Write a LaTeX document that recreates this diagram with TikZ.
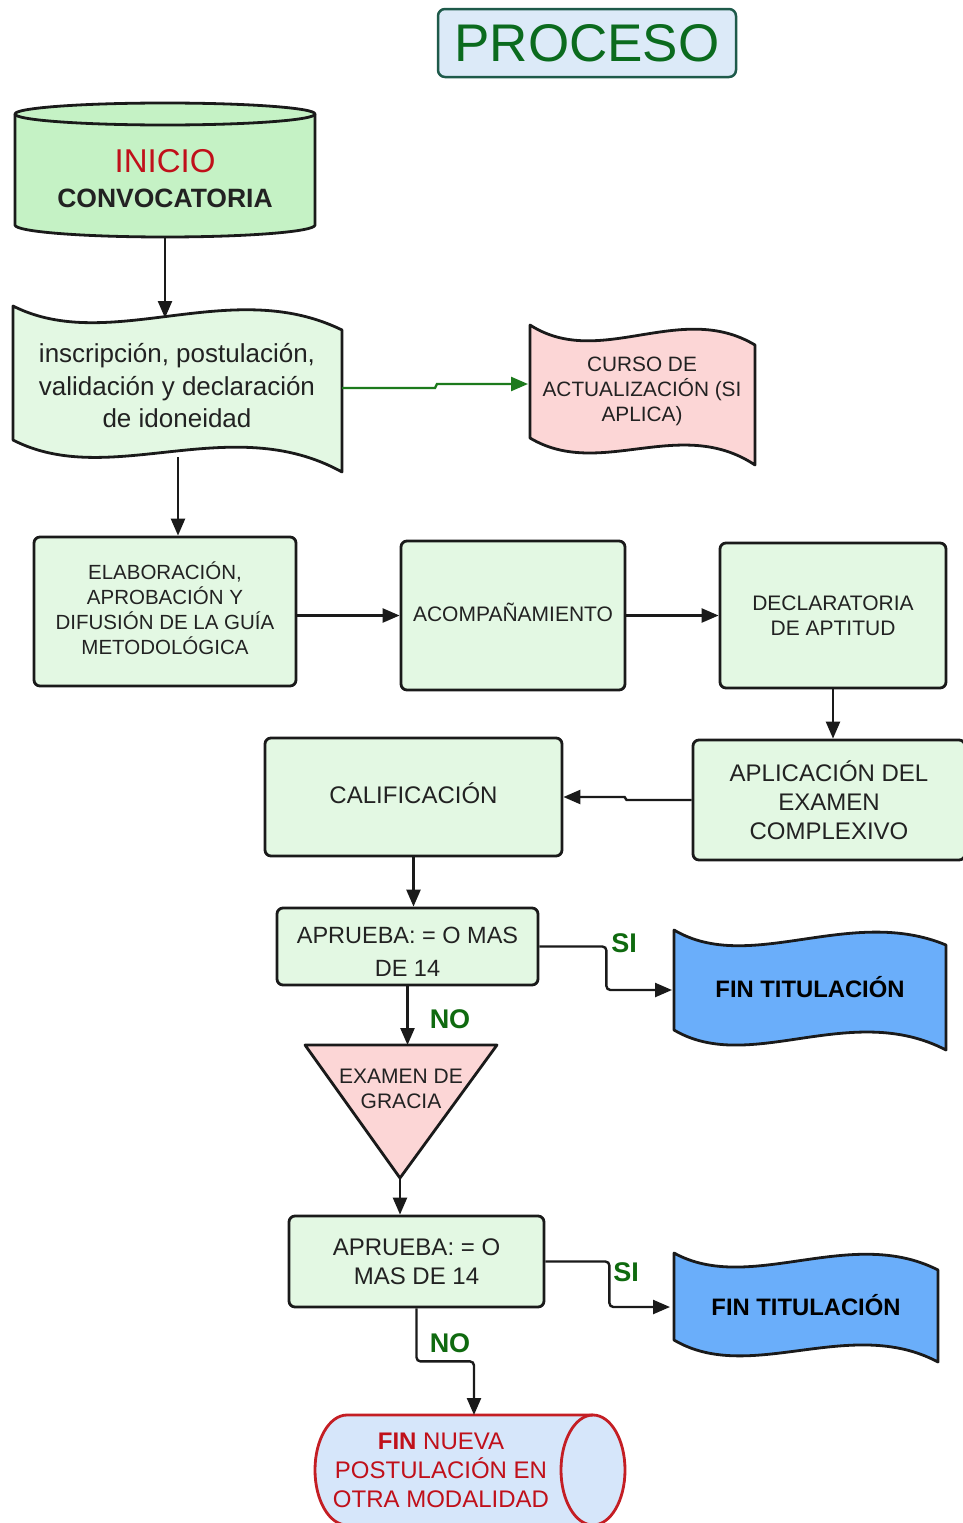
\documentclass[tikz,border=0pt]{standalone}
\usepackage{fontspec}
\setmainfont{Liberation Sans}
\usetikzlibrary{arrows.meta,shapes.geometric}
\definecolor{boxfill}{HTML}{E3F8E3}
\definecolor{cylfill}{HTML}{C5F2C5}
\definecolor{pinkfill}{HTML}{FCD6D6}
\definecolor{bluefill}{HTML}{6AAEFA}
\definecolor{lblue}{HTML}{D6E6FA}
\definecolor{titlefill}{HTML}{DCEAF8}
\definecolor{titleborder}{HTML}{1E5A4A}
\definecolor{titletext}{HTML}{0B6B1E}
\definecolor{labgreen}{HTML}{0F6A0F}
\definecolor{arrgreen}{HTML}{1C7A1C}
\definecolor{redtext}{HTML}{C0101A}
\definecolor{redborder}{HTML}{C41E24}
\definecolor{linecol}{HTML}{1A1A1A}
\definecolor{txt}{HTML}{222222}
\begin{document}
\begin{tikzpicture}[x=1pt,y=-1pt,
  box/.style={draw=linecol, line width=2.8pt, fill=boxfill, rounded corners=6pt, align=center, inner sep=0pt, text=txt},
  shapeline/.style={draw=linecol, line width=2.8pt, line join=round},
  arr/.style={draw=linecol, line width=2.4pt, -{Triangle[length=17pt,width=14pt]}},
  lab/.style={text=labgreen, font=\bfseries\fontsize{27}{27}\selectfont},
  tx/.style={align=center, text=txt, inner sep=0pt}]
\useasboundingbox (0,0) rectangle (963,1523);
\fill[white] (0,0) rectangle (963,1523);

% title
\node[draw=titleborder, line width=2.5pt, fill=titlefill, rounded corners=7pt,
      minimum width=298pt, minimum height=68pt, inner sep=0pt,
      text=titletext, font=\fontsize{53}{53}\selectfont] (title) at (587,43) {PROCESO};

% INICIO cylinder
\filldraw[shapeline, fill=cylfill] (15,114) -- (15,225)
   arc[start angle=180, end angle=360, x radius=150pt, y radius=12pt] -- (315,114) -- cycle;
\filldraw[shapeline, fill=cylfill] (165,114) ellipse [x radius=150pt, y radius=11pt];
\node[tx, text=redtext, font=\fontsize{33}{33}\selectfont] (inicio) at (165,161) {INICIO};
\node[tx, font=\bfseries\fontsize{26.5}{26.5}\selectfont] (convoc) at (165,198) {CONVOCATORIA};
\coordinate (cylb) at (165,237);

% wave 1
\filldraw[shapeline, fill=boxfill] (13,306) .. controls (110,355) and (230,275) .. (342,330)
   -- (342,472) .. controls (230,410) and (110,490) .. (13,440) -- cycle;
\node[tx, font=\fontsize{26}{32.5}\selectfont] (inscr) at (177,386)
  {inscripción, postulación,\\validación y declaración\\de idoneidad};
\coordinate (w1t) at (165,318);
\coordinate (w1b) at (178,457);
\coordinate (w1r) at (342,388);

% CURSO wave
\filldraw[shapeline, fill=pinkfill] (530,325) .. controls (600,370) and (680,300) .. (755,345)
   -- (755,465) .. controls (680,415) and (600,480) .. (530,438) -- cycle;
\node[tx, font=\fontsize{20.8}{25}\selectfont] (curso) at (642,391)
  {CURSO DE\\ACTUALIZACIÓN (SI\\APLICA)};
\coordinate (w2l) at (528,384);

% row of boxes
\node[box, minimum width=262pt, minimum height=149pt] (elab) at (165,611.5) {};
\node[tx, font=\fontsize{20.5}{25}\selectfont] (elabt) at (165,608)
  {ELABORACIÓN,\\APROBACIÓN Y\\DIFUSIÓN DE LA GUÍA\\METODOLÓGICA};
\node[box, minimum width=224pt, minimum height=149pt] (acomp) at (513,615.5) {};
\node[tx, font=\fontsize{21}{25}\selectfont] (acompt) at (513,612) {ACOMPAÑAMIENTO};
\node[box, minimum width=226pt, minimum height=145pt, font=\fontsize{21}{25}\selectfont] (decl) at (833,615.5)
  {DECLARATORIA\\DE APTITUD};
\node[box, minimum width=272pt, minimum height=120pt, font=\fontsize{24}{29}\selectfont] (aplic) at (829,800)
  {APLICACIÓN DEL\\EXAMEN\\COMPLEXIVO};
\node[box, minimum width=297pt, minimum height=118pt] (calif) at (413.5,797) {};
\node[tx, font=\fontsize{24}{29}\selectfont] (calift) at (413.5,793) {CALIFICACIÓN};
\node[box, minimum width=261pt, minimum height=77pt] (apr1) at (407.5,946.5) {};
\node[tx, font=\fontsize{23.5}{33}\selectfont] (apr1t) at (407.5,952)
  {APRUEBA: = O MAS\\DE 14};

% FIN TITULACION 1
\filldraw[shapeline, fill=bluefill] (674,930) .. controls (750,975) and (850,905) .. (946,945)
   -- (946,1050) .. controls (850,1000) and (750,1075) .. (674,1030) -- cycle;
\node[tx, text=black, font=\bfseries\fontsize{23.8}{24}\selectfont] (fin1) at (810,987) {FIN TITULACIÓN};
\coordinate (fin1w) at (672,990);

% triangle
\filldraw[shapeline, fill=pinkfill] (305,1045) -- (497,1045) -- (400,1178) -- cycle;
\coordinate (tritop) at (400,1045);
\coordinate (triapex) at (400,1178);
\node[tx, font=\fontsize{21}{25}\selectfont] (gracia) at (401,1089) {EXAMEN DE\\GRACIA};

\node[box, minimum width=255pt, minimum height=91pt, font=\fontsize{24}{29}\selectfont] (apr2) at (416.5,1261.5)
  {APRUEBA: = O\\MAS DE 14};

% FIN TITULACION 2
\filldraw[shapeline, fill=bluefill] (674,1253) .. controls (750,1295) and (850,1225) .. (938,1270)
   -- (938,1362) .. controls (850,1315) and (750,1385) .. (674,1340) -- cycle;
\node[tx, text=black, font=\bfseries\fontsize{23.8}{24}\selectfont] (fin2) at (806,1305) {FIN TITULACIÓN};
\coordinate (fin2w) at (670,1307);

% horizontal cylinder
\filldraw[draw=redborder, line width=2.8pt, fill=lblue] (347,1415) -- (593,1415)
   arc[start angle=90, end angle=-90, x radius=32pt, y radius=55pt] -- (347,1525)
   arc[start angle=-90, end angle=-270, x radius=32pt, y radius=55pt] -- cycle;
\draw[draw=redborder, line width=2.8pt] (593,1415)
   arc[start angle=90, end angle=270, x radius=32pt, y radius=55pt];
\node[tx, text=redtext, font=\fontsize{24}{29}\selectfont] (finnueva) at (441,1470)
  {\textbf{FIN} NUEVA\\POSTULACIÓN EN\\OTRA MODALIDAD};
\coordinate (cyltop) at (474,1415);

% connectors
\draw[arr] (cylb) -- (w1t);
\draw[arr] (w1b) -- (w1b |- elab.north);
\draw[draw=arrgreen, line width=2.4pt, -{Triangle[length=17pt,width=14pt]}]
   (w1r) -- ++(93,0) -- ++(2,-4) -- (w2l);
\draw[arr] (elab.east |- acomp.west) -- (acomp.west);
\draw[arr] (acomp.east) -- (decl.west);
\draw[arr] (decl.south) -- (decl.south |- aplic.north);
\draw[arr] (aplic.west) -- ++(-65,0) -- ++(-2,-3) -- (calif.east);
\draw[arr] (calif.south) -- (calif.south |- apr1.north);
\draw[arr, rounded corners=4pt] (apr1.east) -- ++(67,0) |- (fin1w);
\draw[arr] (apr1.south) -- (apr1.south |- tritop);
\draw[arr] (triapex) -- (triapex |- apr2.north);
\draw[arr, rounded corners=4pt] (apr2.east) -- ++(64,0) |- (fin2w);
\draw[arr, rounded corners=4pt] (apr2.south) -- ++(0,53) -| (cyltop);

% labels
\node[lab] (si1) at (624,943) {SI};
\node[lab] (no1) at (450,1019) {NO};
\node[lab] (si2) at (626,1272) {SI};
\node[lab] (no2) at (450,1343) {NO};
\end{tikzpicture}
\end{document}
